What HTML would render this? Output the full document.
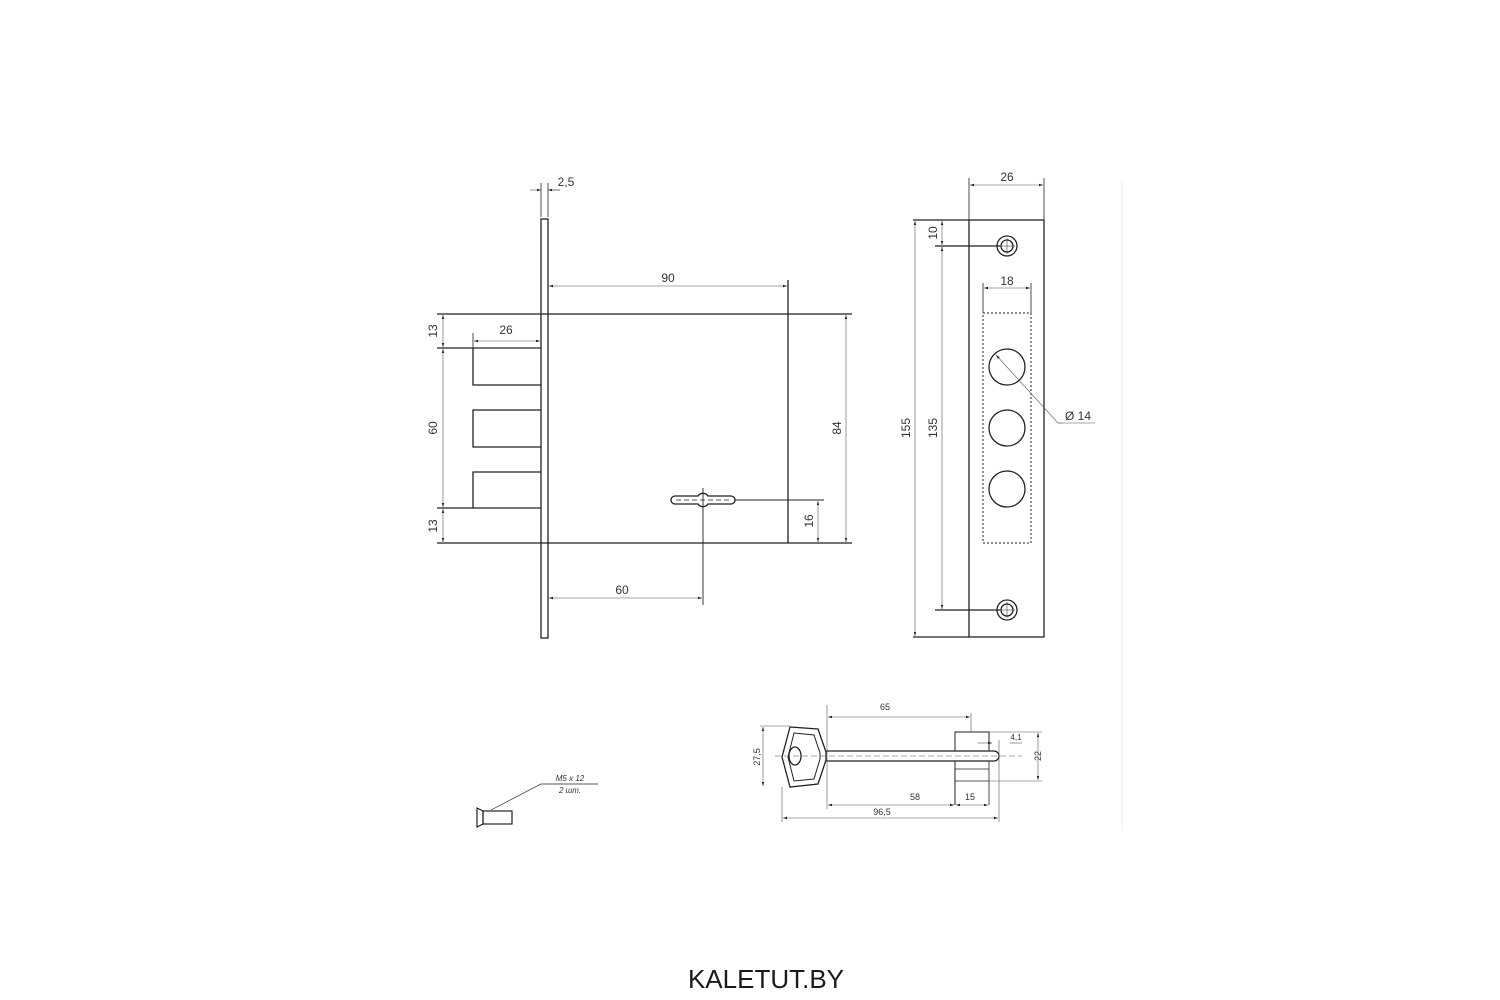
<!DOCTYPE html>
<html><head><meta charset="utf-8"><style>
html,body{margin:0;padding:0;background:#fff;}
svg{display:block;}
text{font-family:"Liberation Sans",sans-serif;fill:#333;}
</style></head><body>
<svg width="1500" height="1000" viewBox="0 0 1500 1000" xmlns="http://www.w3.org/2000/svg">
<defs>
<marker id="a" viewBox="0 0 10 10" refX="10" refY="5" markerWidth="7" markerHeight="7" orient="auto-start-reverse"><path d="M0,2 L10,5 L0,8 z" fill="#222"/></marker>
</defs>
<g stroke="#222" fill="none" stroke-width="1.3">
<rect x="541" y="219" width="7" height="419"/>
<line x1="541" y1="183" x2="541" y2="217" stroke-width="0.8"/>
<line x1="548" y1="183" x2="548" y2="217" stroke-width="0.8"/>
<line x1="437" y1="314" x2="852" y2="314"/>
<line x1="437" y1="543" x2="852" y2="543"/>
<line x1="788" y1="280" x2="788" y2="543"/>
<polyline points="541,348 473,348 473,385 541,385"/>
<line x1="437" y1="348" x2="473" y2="348"/>
<line x1="473" y1="333" x2="473" y2="348" stroke-width="0.8"/>
<polyline points="541,410 473,410 473,447 541,447"/>
<polyline points="541,472 473,472 473,508 541,508"/>
<line x1="437" y1="508" x2="473" y2="508"/>
<path d="M675,496 L698,496 A6,6 0 0 1 708,496 L731,496 A4,4 0 0 1 731,504 L708,504 A6,6 0 0 1 698,504 L675,504 A4,4 0 0 1 675,496 Z"/>
<line x1="735" y1="500" x2="824" y2="500" stroke-width="0.9"/>
<line x1="703" y1="488" x2="703" y2="605" stroke-width="0.9"/>
<line x1="676" y1="500" x2="730" y2="500" stroke-dasharray="5,3" stroke-width="0.8"/>
</g>
<g stroke="#555" stroke-width="0.6" fill="none">
<line x1="549" y1="190" x2="560" y2="190"/>
<line x1="530" y1="190" x2="541" y2="190" marker-end="url(#a)"/>
<line x1="560" y1="190" x2="548" y2="190" marker-end="url(#a)"/>
<line x1="549" y1="286" x2="787" y2="286" marker-start="url(#a)" marker-end="url(#a)"/>
<line x1="474" y1="341" x2="540" y2="341" marker-start="url(#a)" marker-end="url(#a)"/>
<line x1="443" y1="315" x2="443" y2="347" marker-start="url(#a)" marker-end="url(#a)"/>
<line x1="443" y1="349" x2="443" y2="507" marker-start="url(#a)" marker-end="url(#a)"/>
<line x1="443" y1="509" x2="443" y2="542" marker-start="url(#a)" marker-end="url(#a)"/>
<line x1="846" y1="315" x2="846" y2="542" marker-start="url(#a)" marker-end="url(#a)"/>
<line x1="818" y1="501" x2="818" y2="542" marker-start="url(#a)" marker-end="url(#a)"/>
<line x1="549" y1="598" x2="702" y2="598" marker-start="url(#a)" marker-end="url(#a)"/>
</g>
<g font-size="12" text-anchor="middle">
<text x="566" y="186">2,5</text>
<text x="668" y="282">90</text>
<text x="506" y="334">26</text>
<text x="622" y="594">60</text>
<text transform="translate(437,331) rotate(-90)">13</text>
<text transform="translate(437,428) rotate(-90)">60</text>
<text transform="translate(437,526) rotate(-90)">13</text>
<text transform="translate(841,428) rotate(-90)">84</text>
<text transform="translate(813,521) rotate(-90)">16</text>
</g>

<g stroke="#222" fill="none" stroke-width="1.3">
<rect x="969" y="220" width="75" height="417"/>
<line x1="913" y1="220" x2="969" y2="220"/>
<line x1="913" y1="637" x2="969" y2="637"/>
<line x1="969" y1="178" x2="969" y2="220" stroke-width="0.8"/>
<line x1="1044" y1="178" x2="1044" y2="240" stroke-width="0.8"/>
<line x1="935" y1="246" x2="1000" y2="246"/>
<line x1="935" y1="610" x2="1000" y2="610"/>
<circle cx="1007" cy="246" r="10"/><circle cx="1007" cy="246" r="6"/>
<circle cx="1007" cy="610" r="10"/><circle cx="1007" cy="610" r="6"/>
<rect x="983" y="313" width="48" height="230" stroke-dasharray="2,2" stroke-width="1"/>
<line x1="983" y1="283" x2="983" y2="313" stroke-width="0.8"/>
<line x1="1031" y1="283" x2="1031" y2="313" stroke-width="0.8"/>
<circle cx="1007" cy="367" r="18"/>
<circle cx="1007" cy="428" r="18"/>
<circle cx="1007" cy="489" r="18"/>
</g>
<g stroke="#222" stroke-width="0.5" fill="none">
<line x1="1007" y1="238" x2="1007" y2="254"/><line x1="999" y1="246" x2="1015" y2="246"/>
<line x1="1007" y1="602" x2="1007" y2="618"/><line x1="999" y1="610" x2="1015" y2="610"/>
</g>
<g stroke="#555" stroke-width="0.6" fill="none">
<line x1="970" y1="185" x2="1043" y2="185" marker-start="url(#a)" marker-end="url(#a)"/>
<line x1="915" y1="221" x2="915" y2="636" marker-start="url(#a)" marker-end="url(#a)"/>
<line x1="942" y1="221" x2="942" y2="245" marker-start="url(#a)" marker-end="url(#a)"/>
<line x1="942" y1="247" x2="942" y2="609" marker-start="url(#a)" marker-end="url(#a)"/>
<line x1="984" y1="288" x2="1030" y2="288" marker-start="url(#a)" marker-end="url(#a)"/>
<polyline points="1063,423 1058,423 996,355" marker-end="url(#a)"/>
<line x1="1058" y1="423" x2="1095" y2="423"/>
</g>
<line x1="1122" y1="180" x2="1122" y2="830" stroke="#eee" stroke-width="1"/>
<g font-size="12" text-anchor="middle">
<text x="1007" y="181">26</text>
<text x="1007" y="285">18</text>
<text x="1078" y="420">Ø 14</text>
<text transform="translate(910,428) rotate(-90)">155</text>
<text transform="translate(937,428) rotate(-90)">135</text>
<text transform="translate(937,233) rotate(-90)">10</text>
</g>

<g stroke="#222" fill="none" stroke-width="1.3">
<path d="M790,727 L818,729 L826,752 L826,760 L818,784 L790,787 L782,757 Z"/>
<path d="M794,733 L814,735 L820,753 L820,759 L814,779 L794,781 L788,757 Z" stroke-width="1"/>
<ellipse cx="795" cy="756" rx="6" ry="9"/>
<path d="M826,751 L994,751 A5,5 0 0 1 994,761 L826,761"/>
<polyline points="955,751 955,732 989,732 989,751" stroke-width="1"/>
<polyline points="955,761 955,805" stroke-width="1"/>
<line x1="955" y1="781" x2="989" y2="781" stroke-width="0.8"/>
<line x1="955" y1="769" x2="989" y2="769" stroke-width="0.8"/>
<line x1="989" y1="761" x2="989" y2="805" stroke-width="0.8"/>
</g>
<g stroke="#555" stroke-width="0.6" fill="none">
<line x1="775" y1="756" x2="1022" y2="756" stroke-dasharray="6,3"/>
<line x1="827" y1="705" x2="827" y2="809"/>
<line x1="971" y1="713" x2="971" y2="732"/>
<line x1="782" y1="787" x2="782" y2="822"/>
<line x1="999" y1="740" x2="999" y2="822"/>
<line x1="828" y1="717" x2="970" y2="717" marker-start="url(#a)" marker-end="url(#a)"/>
<line x1="828" y1="805" x2="954" y2="805" marker-start="url(#a)" marker-end="url(#a)"/>
<line x1="956" y1="805" x2="988" y2="805" marker-start="url(#a)" marker-end="url(#a)"/>
<line x1="783" y1="818" x2="998" y2="818" marker-start="url(#a)" marker-end="url(#a)"/>
<line x1="760" y1="726" x2="790" y2="726"/>
<line x1="763" y1="727" x2="763" y2="786" marker-start="url(#a)" marker-end="url(#a)"/>
<line x1="989" y1="732" x2="1042" y2="732"/>
<line x1="989" y1="781" x2="1042" y2="781"/>
<line x1="1038" y1="733" x2="1038" y2="780" marker-start="url(#a)" marker-end="url(#a)"/>
<line x1="978" y1="743" x2="992" y2="743" marker-end="url(#a)"/>
<line x1="1010" y1="743" x2="1022" y2="743"/>
</g>
<g font-size="9" text-anchor="middle">
<text x="885" y="710">65</text>
<text x="915" y="800">58</text>
<text x="970" y="800">15</text>
<text x="882" y="815">96,5</text>
<text x="1016" y="740" font-size="8">4,1</text>
<text transform="translate(760,757) rotate(-90)">27,5</text>
<text transform="translate(1041,756) rotate(-90)">22</text>
</g>

<g stroke="#222" fill="none" stroke-width="1.2">
<polygon points="477,808 483,811 483,824 477,827"/>
<rect x="483" y="811" width="29" height="13"/>
<polyline points="491,810 541,784 598,784" stroke-width="0.7"/>
</g>
<text x="570" y="781" font-size="8" font-style="italic" text-anchor="middle">M5 x 12</text>
<text x="570" y="793" font-size="8" font-style="italic" text-anchor="middle">2 шт.</text>

<text x="766" y="988" font-size="26" text-anchor="middle" style="fill:#1a1a1a">KALETUT.BY</text>
</svg>
</body></html>
